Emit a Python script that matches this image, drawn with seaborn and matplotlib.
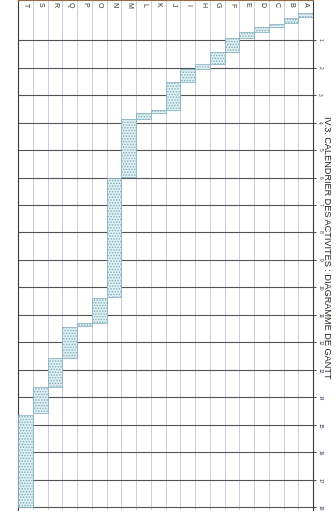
import numpy as np
import pandas as pd
import matplotlib
matplotlib.use("Agg")
import matplotlib.pyplot as plt
import seaborn as sns

# ---- data (time in tick units) ----
tasks = list("ABCDEFGHIJKLMNOPQRST")
starts = [0.00, 0.20, 0.42, 0.53, 0.71, 0.93, 1.44, 1.87, 2.06, 2.53,
          3.55, 3.66, 3.88, 6.02, 10.39, 11.30, 11.45, 12.58, 13.63, 14.62]
ends = [0.16, 0.38, 0.53, 0.71, 0.93, 1.44, 1.87, 2.06, 2.53, 3.55,
        3.66, 3.88, 5.99, 10.36, 11.30, 11.41, 12.58, 13.63, 14.58, 18.00]
time_ticks = list(range(1, 19))
tick_labels = [str(t) for t in time_ticks]
title = "IV.3. CALENDRIER DES ACTIVITES : DIAGRAMME DE GANTT"

sns.set_theme(style="white")
plt.rcParams['font.family'] = ['Liberation Sans', 'DejaVu Sans']
plt.rcParams['hatch.linewidth'] = 0.7

df = pd.DataFrame({"task": tasks, "start": starts, "end": ends})
df["duration"] = df["end"] - df["start"]
order = tasks[::-1]              # page is rotated: A on the right, T on the left
df_o = df.set_index("task").loc[order].reset_index()

fig = plt.figure(figsize=(3.36, 5.12), dpi=100)
ax = fig.add_axes([0.054, 0.004, 0.878, 0.996])

sns.barplot(data=df_o, x="task", y="duration", order=order,
            bottom=df_o["start"].to_numpy(), width=1.0, errorbar=None,
            color="#dcf2f4", edgecolor="#7faabd", linewidth=0.5,
            hatch="......", ax=ax, zorder=3)

ax.set_xlim(-0.5, len(order) - 0.5)
ax.set_ylim(18.09, -0.455)

# time ticks on the right (page top)
ax.yaxis.tick_right()
ax.set_yticks(time_ticks)
ax.set_yticklabels(tick_labels)
ax.tick_params(axis='y', labelsize=3.5, labelrotation=270, length=2, width=0.6,
               pad=1, colors='#333355')
ax.grid(axis='y', which='major', color='#555555', lw=0.8)

# column separators
ax.set_xticks(np.arange(-0.5, len(order), 1), minor=True)
ax.grid(axis='x', which='minor', color='#c9c3d8', lw=0.6)
ax.grid(axis='x', which='major', visible=False)
ax.tick_params(axis='x', which='both', bottom=False, top=False,
               labelbottom=False, labeltop=False)
ax.set_xlabel("")
ax.set_ylabel("")
ax.set_axisbelow(True)

# task letters in header strip
for i, t in enumerate(order):
    ax.text(i, -0.28, t, rotation=270, ha='center', va='center',
            fontsize=5, color='#333333')

for side in ['left', 'top', 'right']:
    ax.spines[side].set_visible(True)
    ax.spines[side].set_color('#3a3a3a')
    ax.spines[side].set_linewidth(0.8)
ax.spines['bottom'].set_visible(False)
ax.spines['top'].set_color('#9a6a40')

fig.text(0.973, 0.516, title, rotation=270, ha='center', va='center',
         fontsize=6.6, color='#222222')

fig.savefig("out.png", dpi=100)
